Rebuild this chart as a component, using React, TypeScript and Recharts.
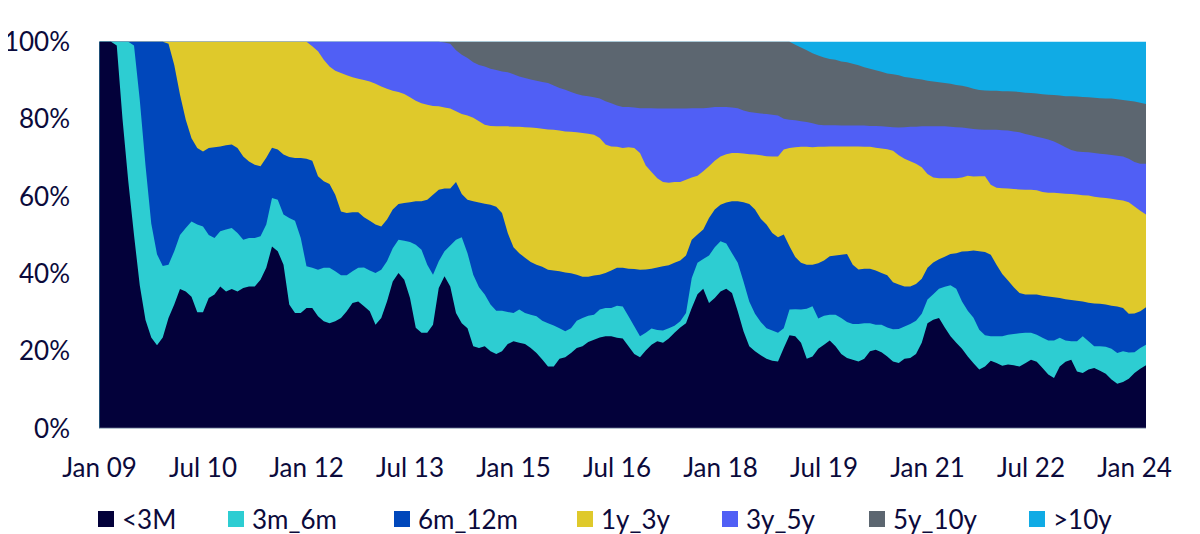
import React from "react";
import { AreaChart, Area, XAxis, YAxis } from "recharts";

// ---------- categories & ticks ----------
const MONTH_NAMES = ["Jan", "Feb", "Mar", "Apr", "May", "Jun", "Jul", "Aug", "Sep", "Oct", "Nov", "Dec"];
const START_YEAR = 2009;
const MONTH_COUNT = 183; // Jan 2009 .. Mar 2024
const CATEGORIES: string[] = Array.from({ length: MONTH_COUNT }, (_, i) => {
  const yy = String((START_YEAR + Math.floor(i / 12)) % 100).padStart(2, "0");
  return `${MONTH_NAMES[i % 12]} ${yy}`;
});
const TICK_LABELS = ["Jan 09", "Jul 10", "Jan 12", "Jul 13", "Jan 15", "Jul 16", "Jan 18", "Jul 19", "Jan 21", "Jul 22", "Jan 24"];
const Y_TICKS = [0, 20, 40, 60, 80, 100];

// ---------- series: upper edge of each band (cumulative share, %) ----------
const UPTO_3M = [
  100, 100, 100, 99, 80, 64, 50, 37, 28, 23.5, 21.5, 23.5,
  28.5, 32, 36, 35.4, 34, 30, 30, 33.7, 34.6, 36.7, 35.4, 36,
  35.4, 36.3, 36.7, 36.7, 38.4, 41.5, 47, 45.8, 42.3, 32, 29.8, 29.8,
  31.1, 31.1, 29, 27.7, 27.2, 27.7, 28.5, 30.3, 32.4, 32.8, 31.6, 30.3,
  26.8, 28.5, 32.8, 38, 40.2, 38.4, 33.7, 26, 24.7, 24.7, 26.8, 36.3,
  39.3, 36.7, 29.8, 27.2, 25.9, 21.2, 20.8, 21.2, 19.9, 19.2, 19.9, 21.8,
  22.5, 22.1, 21.8, 20.8, 19.5, 17.8, 16, 16, 18, 18.4, 19.5, 20.8,
  21.2, 22.3, 22.9, 23.5, 23.8, 23.8, 23.4, 23.2, 21.2, 19.2, 18.4, 20.1,
  21.6, 22.5, 22.1, 23.2, 24.7, 26.1, 27.2, 31.1, 34.7, 36.1, 32.4, 33.7,
  35.4, 36.1, 35, 30.3, 25.1, 21.2, 19.9, 18.9, 18, 17.5, 17.3, 20.8,
  24.1, 23.8, 22.1, 18, 18.6, 20.6, 21.6, 22.7, 21.2, 19.2, 18.2, 17.7,
  17.3, 18, 19.9, 20.3, 19.7, 18.6, 17.3, 16.9, 18, 18.2, 19.2, 22.1,
  27.2, 28.1, 28.5, 26.1, 23.8, 22.1, 20.6, 18.6, 16.8, 15.2, 16, 17.5,
  16.9, 16.2, 16.5, 16.3, 16, 16.8, 17.7, 17.2, 15.6, 13.9, 13, 16,
  17.2, 17.7, 14.7, 14.3, 15.2, 15.6, 14.9, 14.1, 12.6, 11.5, 12, 12.8,
  14.3, 15.4, 16.3,
];

const UPTO_6M = [
  100, 100, 100, 100, 100, 100, 99, 85, 68, 53, 45, 42,
  42.3, 45.8, 50, 51.8, 53.5, 52.7, 52.2, 50, 49.2, 51, 51.4, 51.8,
  50.5, 48.8, 49.2, 49.2, 49.7, 52.7, 59.6, 59.1, 55.3, 54.4, 53.7, 49.2,
  41.9, 41.5, 41, 41.5, 41.5, 40.6, 39.6, 39.6, 40.6, 41.5, 41.6, 40.8,
  40.2, 41, 43.2, 46.6, 48.8, 48.5, 48.2, 47.5, 46.2, 42.3, 39.7, 43.2,
  45.8, 47.3, 48.8, 49.4, 45.3, 39.7, 36.5, 34.6, 32, 30.4, 30.4, 30.1,
  29.8, 30.7, 29.8, 29.4, 29, 27.8, 27.2, 26.6, 25.9, 25.1, 25.9, 27.8,
  28.5, 29.1, 29.4, 30.7, 31.1, 31.1, 31.7, 31.5, 29, 26.4, 23.8, 24.7,
  25.8, 25.4, 25.3, 25.9, 26.5, 27.7, 29.8, 38.9, 42.8, 43.8, 44.7, 46.8,
  48.4, 47.8, 45.3, 42.8, 38, 32.8, 29.6, 27.5, 25.9, 25.3, 24.7, 25.9,
  30.7, 30.8, 30.7, 30.9, 31.6, 28.4, 29.1, 29.4, 29.4, 28.5, 27.5, 27,
  27, 27.2, 27.2, 26.8, 26.8, 26.1, 25.6, 25.7, 26.3, 27, 27.8, 29.6,
  33.3, 34.7, 36.1, 36.6, 37, 36.1, 32.8, 30.4, 28.6, 25.5, 24.1, 23.8,
  23.8, 23.8, 24.2, 24.4, 24.6, 24.7, 24.7, 24.2, 23.4, 22.7, 22.7, 23.4,
  22.7, 22.5, 22.5, 23.8, 22.5, 21.2, 21.2, 21.1, 20.6, 19.5, 19.9, 19.6,
  19.7, 20.8, 21.6,
];

const UPTO_12M = [
  100, 100, 100, 100, 100, 100, 100, 100, 100, 100, 100, 100,
  99.5, 94, 86.3, 79.8, 75, 72.5, 71.6, 72.5, 72.7, 72.9, 73.2, 73.4,
  72.5, 70.3, 69, 68.2, 67.8, 70, 72.6, 72.1, 70.8, 70.2, 69.9, 69.9,
  69.7, 69.2, 65.2, 63.9, 63.2, 60.4, 56.1, 55.7, 55.9, 55.9, 54.6, 53.7,
  52.7, 52.2, 54, 56.6, 58, 58.3, 58.5, 58.7, 58.7, 59.1, 60.4, 61.7,
  62, 62, 63.7, 60.6, 59.1, 58.7, 58.4, 58.1, 57.8, 57.3, 55.7, 50.5,
  46.8, 45.3, 44.1, 43, 42.3, 41.8, 41, 40.8, 40.6, 40.3, 40.1, 39.7,
  39.2, 39.2, 39.5, 39.7, 40.2, 40.8, 41.5, 41.5, 41.3, 41.2, 41, 41.1,
  41.3, 41.6, 41.9, 42.2, 42.8, 43.4, 44.7, 48.8, 50.1, 51.4, 54.4, 56.6,
  57.8, 58.4, 58.7, 58.7, 58.5, 58, 56.6, 54.2, 52.7, 50.5, 49.4, 50.1,
  47.1, 44.3, 42.8, 42.3, 42.3, 42.7, 43.4, 44.5, 44.7, 44.9, 45.1, 42.3,
  41.1, 41.3, 41.3, 40.8, 40.2, 39.6, 37.8, 37.2, 36.7, 36.7, 37.3, 38.7,
  41.5, 42.9, 43.7, 44.4, 45.1, 45.3, 45.7, 45.8, 46, 45.8, 45.6, 44.9,
  42.3, 39.9, 38.2, 36.5, 35, 34.6, 34.6, 34.6, 34.3, 34.1, 33.9, 33.7,
  33.4, 33.2, 33, 32.8, 32.5, 32.3, 32.2, 32, 31.7, 31.5, 31.1, 29.6,
  29.7, 30.3, 31.3,
];

const UPTO_3Y = [
  100, 100, 100, 100, 100, 100, 100, 100, 100, 100, 100, 100,
  100, 100, 100, 100, 100, 100, 100, 100, 100, 100, 100, 100,
  100, 100, 100, 100, 100, 100, 100, 100, 100, 100, 100, 100,
  100, 98.8, 97.5, 95.3, 93.6, 92.5, 91.9, 91.3, 90.8, 90.4, 90.1, 89.7,
  89.1, 88.4, 87.8, 87.3, 87, 86.5, 85.6, 84.7, 84.1, 83.7, 83.4, 83.3,
  83, 82.7, 82, 81.3, 80.9, 80.3, 79.4, 78.5, 78.2, 78.1, 78.1, 78.1,
  78, 78, 77.9, 77.8, 77.7, 77.5, 77.3, 77.2, 77, 76.8, 76.7, 76.6,
  76.4, 76.2, 75.9, 75.1, 73.4, 72.9, 72.8, 72.5, 72.7, 72.5, 71.2, 68,
  66.3, 64.7, 63.7, 63.5, 63.7, 63.7, 64.3, 64.9, 65.3, 66.5, 67.8, 69.2,
  70.3, 70.9, 71.2, 71.2, 71.1, 70.9, 70.8, 70.6, 70.4, 70.3, 70.3, 72.1,
  72.5, 72.7, 72.8, 72.8, 72.7, 72.8, 72.8, 72.9, 72.9, 72.9, 72.9, 72.9,
  72.9, 72.8, 72.8, 72.6, 72.4, 72.2, 71.8, 70.6, 69.7, 69.1, 68.4, 67.5,
  65.8, 64.9, 64.7, 64.7, 64.7, 64.7, 64.9, 65.3, 65.1, 65.2, 65.2, 63,
  62.2, 62.1, 62, 61.9, 61.8, 61.7, 61.7, 61.6, 61.1, 60.9, 60.9, 60.8,
  60.7, 60.6, 60.5, 60.3, 60.2, 59.9, 59.7, 59.6, 59.4, 59.1, 58.9, 58.5,
  57.4, 56.3, 55.3,
];

const UPTO_5Y = [
  100, 100, 100, 100, 100, 100, 100, 100, 100, 100, 100, 100,
  100, 100, 100, 100, 100, 100, 100, 100, 100, 100, 100, 100,
  100, 100, 100, 100, 100, 100, 100, 100, 100, 100, 100, 100,
  100, 100, 100, 100, 100, 100, 100, 100, 100, 100, 100, 100,
  100, 100, 100, 100, 100, 100, 100, 100, 100, 100, 100, 100,
  99.8, 99.5, 97.8, 96.6, 95.8, 94.7, 94, 93.6, 93, 92.7, 92.3, 92.1,
  91.6, 91, 90.6, 90.2, 89.9, 89.6, 89.3, 88.7, 88, 87.6, 87, 86.5,
  86.1, 85.9, 85.6, 85.3, 84.6, 84.1, 83.5, 83.1, 83.1, 83, 82.8, 82.8,
  82.8, 82.7, 82.7, 82.7, 82.7, 82.7, 82.7, 82.8, 82.8, 82.8, 82.9, 83.1,
  83.1, 83.1, 83, 82.8, 82.2, 81.8, 81.6, 81.4, 81.3, 81.1, 80.9, 80.1,
  79.8, 79.7, 79.4, 79.2, 78.9, 78.5, 78.4, 78.4, 78.4, 78.3, 78.3, 78.3,
  78.3, 78.3, 78.2, 78.2, 78.1, 78, 77.9, 77.8, 77.9, 78, 78, 78.1,
  78.1, 78.1, 78.1, 78.1, 78, 77.9, 77.8, 77.6, 77.4, 77.3, 77.2, 77.2,
  77.2, 77.1, 77, 76.8, 76.6, 76.1, 75.8, 75.4, 75.1, 74.7, 74.2, 73.5,
  72.7, 72, 71.6, 71.5, 71.4, 71.2, 71, 70.9, 70.7, 70.5, 70.3, 69.7,
  68.9, 68.4, 68.4,
];

const UPTO_10Y = [
  100, 100, 100, 100, 100, 100, 100, 100, 100, 100, 100, 100,
  100, 100, 100, 100, 100, 100, 100, 100, 100, 100, 100, 100,
  100, 100, 100, 100, 100, 100, 100, 100, 100, 100, 100, 100,
  100, 100, 100, 100, 100, 100, 100, 100, 100, 100, 100, 100,
  100, 100, 100, 100, 100, 100, 100, 100, 100, 100, 100, 100,
  100, 100, 100, 100, 100, 100, 100, 100, 100, 100, 100, 100,
  100, 100, 100, 100, 100, 100, 100, 100, 100, 100, 100, 100,
  100, 100, 100, 100, 100, 100, 100, 100, 100, 100, 100, 100,
  100, 100, 100, 100, 100, 100, 100, 100, 100, 100, 100, 100,
  100, 100, 100, 100, 100, 100, 100, 100, 100, 100, 100, 100,
  100, 99.2, 98.5, 97.8, 97, 96.4, 95.9, 95.5, 95.3, 94.9, 94.7, 94.3,
  93.9, 93.4, 93, 92.6, 92.2, 91.8, 91.6, 91.3, 90.9, 90.7, 90.4, 90.2,
  89.9, 89.7, 89.5, 89.3, 89.1, 88.8, 88.6, 88.3, 87.8, 87.5, 87.4, 87.3,
  87.3, 87.2, 87.2, 87.1, 87, 86.8, 86.7, 86.6, 86.4, 86.3, 86.2, 86.1,
  85.9, 85.9, 85.8, 85.7, 85.6, 85.5, 85.4, 85.3, 85.3, 85.1, 84.9, 84.7,
  84.5, 84.2, 83.9,
];

const TOTAL_SHARE = 100;

// ---------- series meta ----------
const SERIES = [
  { key: "lt3m", name: "<3M", color: "#03013a" },
  { key: "m3m6", name: "3m_6m", color: "#2dcdd2" },
  { key: "m6m12", name: "6m_12m", color: "#0047bb" },
  { key: "y1y3", name: "1y_3y", color: "#dfc92b" },
  { key: "y3y5", name: "3y_5y", color: "#505ff5" },
  { key: "y5y10", name: "5y_10y", color: "#5c6670" },
  { key: "gt10y", name: ">10y", color: "#10abe5" },
];

const DATA = CATEGORIES.map((month, i) => ({
  month,
  lt3m: UPTO_3M[i],
  m3m6: UPTO_6M[i],
  m6m12: UPTO_12M[i],
  y1y3: UPTO_3Y[i],
  y3y5: UPTO_5Y[i],
  y5y10: UPTO_10Y[i],
  gt10y: TOTAL_SHARE,
}));

const TEXT_COLOR = "#0b0a3b";
const FONT = "Lato, 'Open Sans', sans-serif";

// legend item left edges inside the chart box (chart box sits at the 8px body margin)
const LEGEND_LEFT = [90, 220, 386, 569, 714, 861, 1021];

export default function App() {
  const drawOrder = [...SERIES].reverse();
  return (
    <div style={{ position: "relative", width: 1192, height: 526, fontFamily: FONT, background: "#fff" }}>
      <style>{`.recharts-surface{overflow:visible}`}</style>
      <AreaChart
        width={1192}
        height={526}
        data={DATA}
        margin={{ top: 33.7, right: 54, bottom: 45.7, left: 0 }}
      >
        <XAxis
          dataKey="month"
          ticks={TICK_LABELS}
          interval={0}
          tickLine={false}
          axisLine={{ stroke: "#d3d6de" }}
          height={60}
          tickMargin={24}
          tick={{ fill: TEXT_COLOR, fontSize: 26, fontFamily: FONT }}
        />
        <YAxis
          type="number"
          domain={[0, 100]}
          ticks={Y_TICKS}
          width={91.5}
          tickMargin={23.5}
          axisLine={false}
          tickLine={false}
          tickFormatter={(v: number) => `${v}%`}
          tick={{ fill: TEXT_COLOR, fontSize: 26, fontFamily: FONT }}
        />
        {drawOrder.map((s) => (
          <Area
            key={s.key}
            type="linear"
            dataKey={s.key}
            name={s.name}
            stroke="none"
            fill={s.color}
            fillOpacity={1}
            dot={false}
            activeDot={false}
            isAnimationActive={false}
          />
        ))}
      </AreaChart>
      {SERIES.map((s, i) => (
        <div
          key={s.key}
          style={{
            position: "absolute",
            left: LEGEND_LEFT[i],
            top: 496,
            height: 30,
            display: "flex",
            alignItems: "center",
            gap: 8,
            color: TEXT_COLOR,
            fontSize: 26,
            whiteSpace: "nowrap",
          }}
        >
          <span style={{ display: "inline-block", width: 16, height: 16, background: s.color }} />
          <span>{s.name}</span>
        </div>
      ))}
    </div>
  );
}
